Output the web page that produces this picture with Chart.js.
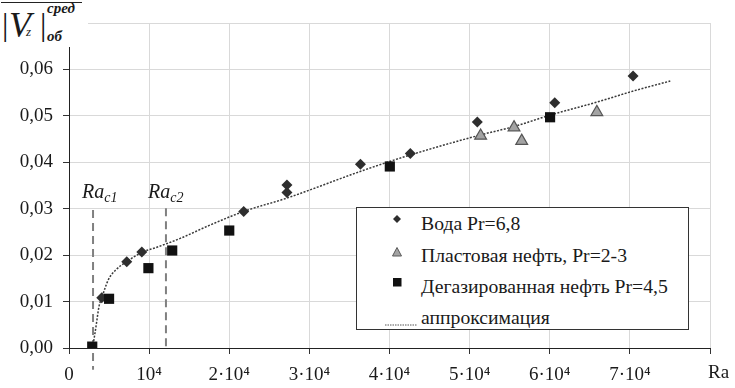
<!DOCTYPE html>
<html><head><meta charset="utf-8">
<script src="https://cdn.jsdelivr.net/npm/chart.js@4.4.1/dist/chart.umd.min.js"></script>
<style>
html,body{margin:0;padding:0;background:#fff;}
#wrap{position:relative;width:735px;height:388px;overflow:hidden;font-family:'Liberation Serif','Times New Roman',serif;color:#1a1a1a;}
#c{position:absolute;left:0;top:0;}
.abs{position:absolute;white-space:nowrap;line-height:1;}
#ylab{position:absolute;left:0;top:0;width:88px;height:47px;background:#fff;}
#legend{position:absolute;left:356px;top:207px;width:333px;height:123px;box-sizing:border-box;border:1px solid #333;background:#fff;}
#legend .txt{font-size:19.7px;}
</style></head>
<body><div id="wrap"><canvas id="c" width="735" height="388"></canvas>
<div id="ylab">
  <div class="abs" style="left:1px;top:2px;width:81px;height:0;border-top:1px solid #222;"></div>
  <span class="abs" style="left:2px;top:8px;font-size:32px;">|</span>
  <span class="abs" style="left:9px;top:7px;font-size:36px;font-style:italic;">V</span>
  <span class="abs" style="left:26px;top:25px;font-size:13px;font-style:italic;">z</span>
  <span class="abs" style="left:40px;top:8px;font-size:32px;">|</span>
  <span class="abs" style="left:47px;top:1px;font-size:15px;font-style:italic;font-weight:bold;">сред</span>
  <span class="abs" style="left:47px;top:29px;font-size:15px;font-style:italic;font-weight:bold;">об</span>
</div>
<span class="abs" style="left:82px;top:181px;font-size:20px;font-style:italic;">Ra<sub style="font-size:14px;vertical-align:-4px;">c1</sub></span>
<span class="abs" style="left:148px;top:181px;font-size:20px;font-style:italic;">Ra<sub style="font-size:14px;vertical-align:-4px;">c2</sub></span>
<span class="abs" style="left:708px;top:362px;font-size:19px;">Ra</span>
<div id="legend"></div>
</div>
<script>
// ---- data ----
const seriesNames = ['Вода Pr=6,8', 'Пластовая нефть, Pr=2-3', 'Дегазированная нефть Pr=4,5', 'аппроксимация'];

const waterRa = [4090, 7210, 9090, 21800, 27200, 27200, 36375, 42600, 50960, 60625, 70400];
const waterV  = [0.0108, 0.0186, 0.0207, 0.0294, 0.0351, 0.0335, 0.0396, 0.0419, 0.0487, 0.0528, 0.0586];

const oilRa = [51375, 55540, 56500, 65875];
const oilV  = [0.0457, 0.0475, 0.0446, 0.0508];

const degasRa = [2900, 5000, 9910, 12880, 20000, 40040, 60040];
const degasV  = [0.0003, 0.0106, 0.0172, 0.0210, 0.0253, 0.0391, 0.0497];

const approxRa = [2950, 3375, 3750, 4090, 4910, 5960, 7210, 9090, 10960, 13875, 17500, 21790, 27210, 36790, 42625, 51375, 55540, 60125, 65960, 70540, 75040];
const approxV  = [0.0, 0.0047, 0.0090, 0.0108, 0.0147, 0.0170, 0.0186, 0.0206, 0.0217, 0.0236, 0.0264, 0.0294, 0.0323, 0.0383, 0.0416, 0.0459, 0.0477, 0.0502, 0.0530, 0.0554, 0.0575];

const racRa     = [3000, 12100];
const racTop    = [0.0297, 0.0301];
const racBottom = [-0.0047, 0.0];

const xTickLabels = ['0', '10⁴', '2·10⁴', '3·10⁴', '4·10⁴', '5·10⁴', '6·10⁴', '7·10⁴', ''];
const yTickLabels = ['0,00', '0,01', '0,02', '0,03', '0,04', '0,05', '0,06', ''];

// ---- helpers ----
const pts = (xs, ys) => xs.map((x, i) => ({x: x, y: ys[i]}));
const vline = (i) => [{x: racRa[i], y: racTop[i]}, {x: racRa[i], y: racBottom[i]}];

// ---- legend (HTML) ----
const legendMarkers = [
  '<svg width="12" height="12" viewBox="0 0 12 12"><polygon points="6,2 10,6 6,10 2,6" fill="#2e2e2e"/></svg>',
  '<svg width="12" height="12" viewBox="0 0 12 12"><polygon points="6,1.5 10.5,10 1.5,10" fill="#a3a3a3" stroke="#5a5a5a" stroke-width="1"/></svg>',
  '<svg width="12" height="12" viewBox="0 0 12 12"><rect x="2" y="2" width="8.5" height="8.5" fill="#111"/></svg>',
  '<svg width="34" height="4" viewBox="0 0 34 4"><line x1="0" y1="2" x2="32" y2="2" stroke="#555" stroke-width="1" stroke-dasharray="1.5,1"/></svg>'
];
const legendRowsTop = [6, 37.5, 68.5, 99.5];
const markerPos = [[39.7, 10.3], [39.7, 43], [39.7, 72.7], [28, 108.3]];
const leg = document.getElementById('legend');
let html = '';
for (let i = 0; i < 4; i++) {
  const mw = i === 3 ? 34 : 12, mh = i === 3 ? 4 : 12;
  html += '<div class="abs" style="left:' + (markerPos[i][0] - (i === 3 ? 0 : 6)) + 'px;top:' + (markerPos[i][1] - mh / 2) + 'px;width:' + mw + 'px;height:' + mh + 'px;">' + legendMarkers[i] + '</div>';
  html += '<span class="abs txt" style="left:64px;top:' + legendRowsTop[i] + 'px;">' + seriesNames[i] + '</span>';
}
leg.innerHTML = html;

// ---- chart ----
const tickFont = {family: "'Liberation Serif', 'Times New Roman', serif", size: 19};
new Chart(document.getElementById('c'), {
  type: 'scatter',
  data: {
    datasets: [
      {label: seriesNames[2], data: pts(degasRa, degasV), pointStyle: 'rect', pointRadius: 7.2, backgroundColor: '#111', borderColor: '#111', borderWidth: 0},
      {label: seriesNames[1], data: pts(oilRa, oilV), pointStyle: 'triangle', pointRadius: 6.8, backgroundColor: '#a3a3a3', borderColor: '#555', borderWidth: 1.2},
      {label: seriesNames[0], data: pts(waterRa, waterV), pointStyle: 'rectRot', pointRadius: 5.5, backgroundColor: '#2e2e2e', borderColor: '#2e2e2e', borderWidth: 0},
      {label: seriesNames[3], type: 'line', data: pts(approxRa, approxV), showLine: true, pointRadius: 0, borderColor: '#3a3a3a', borderWidth: 1.5, borderDash: [2, 1.5], cubicInterpolationMode: 'monotone', fill: false},
      {label: 'Ra c1', type: 'line', data: vline(0), showLine: true, pointRadius: 0, borderColor: '#808080', borderWidth: 2, borderDash: [8, 5], fill: false, clip: false},
      {label: 'Ra c2', type: 'line', data: vline(1), showLine: true, pointRadius: 0, borderColor: '#808080', borderWidth: 2, borderDash: [8, 5], fill: false, clip: false}
    ]
  },
  options: {
    responsive: false,
    animation: false,
    events: [],
    layout: {padding: {top: 23, right: 25, left: 0, bottom: 0}},
    plugins: {legend: {display: false}, tooltip: {enabled: false}},
    scales: {
      x: {
        type: 'linear', min: 0, max: 80000,
        afterFit: s => { s.height = 40; },
        ticks: {stepSize: 10000, autoSkip: false, maxRotation: 0, padding: 10, color: '#1a1a1a', font: tickFont,
                callback: (v, i) => xTickLabels[i]},
        grid: {color: '#d9d9d9', lineWidth: 1, tickLength: 6, tickColor: '#333', drawOnChartArea: true},
        border: {display: true, color: '#222', width: 1}
      },
      y: {
        min: 0, max: 0.07,
        afterFit: s => { s.width = 69; },
        ticks: {stepSize: 0.01, autoSkip: false, padding: 10, color: '#1a1a1a', font: tickFont,
                callback: (v, i) => yTickLabels[i]},
        grid: {color: '#d9d9d9', lineWidth: 1, tickLength: 6, tickColor: '#333', drawOnChartArea: true},
        border: {display: true, color: '#222', width: 1}
      }
    }
  }
});
</script>
</body></html>
